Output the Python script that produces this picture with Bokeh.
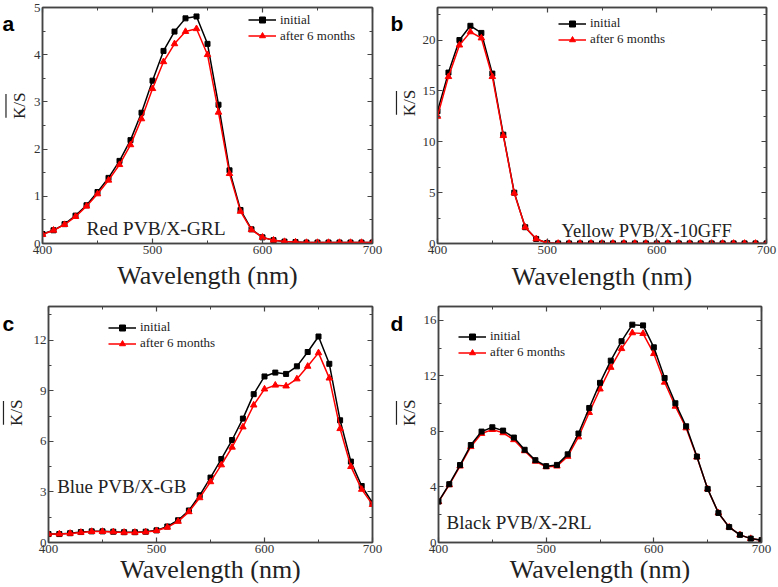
from math import pi
from bokeh.plotting import figure
from bokeh.layouts import column, row
from bokeh.models import (FixedTicker, LinearAxis, Range1d, Label, BoxAnnotation,
                          Legend, LegendItem, ColumnDataSource, CustomLabelingPolicy)
from bokeh.embed import file_html
from bokeh.resources import INLINE

# ---------------- data ----------------
wavelength = list(range(400, 701, 10))

red_initial = [0.20, 0.28, 0.41, 0.59, 0.81, 1.09, 1.39, 1.75, 2.19, 2.77, 3.45, 4.08, 4.49, 4.77, 4.81,
               4.23, 2.94, 1.55, 0.71, 0.30, 0.13, 0.07, 0.04, 0.03,
               0.02, 0.02, 0.02, 0.02, 0.02, 0.02, 0.02]
red_after = [0.19, 0.28, 0.40, 0.57, 0.79, 1.05, 1.34, 1.67, 2.09, 2.64, 3.28, 3.85, 4.23, 4.49, 4.55,
             4.00, 2.78, 1.48, 0.68, 0.29, 0.13, 0.07, 0.04, 0.03,
             0.02, 0.02, 0.02, 0.02, 0.02, 0.02, 0.02]

yellow_initial = [13.0, 16.8, 20.0, 21.4, 20.7, 16.7, 10.7, 5.0, 1.6, 0.45, 0.05,
                  0.01, 0.01, 0.01, 0.01, 0.01, 0.01, 0.01, 0.01, 0.01, 0.01,
                  0.01, 0.01, 0.01, 0.01, 0.01, 0.01, 0.01, 0.01, 0.01, 0.01]
yellow_after = [12.5, 16.4, 19.5, 20.8, 20.2, 16.4, 10.6, 4.95, 1.6, 0.45, 0.05,
                0.01, 0.01, 0.01, 0.01, 0.01, 0.01, 0.01, 0.01, 0.01, 0.01,
                0.01, 0.01, 0.01, 0.01, 0.01, 0.01, 0.01, 0.01, 0.01, 0.01]

blue_initial = [0.50, 0.50, 0.55, 0.62, 0.66, 0.66, 0.64, 0.61, 0.61, 0.64, 0.72, 0.95, 1.32, 1.90, 2.80,
                3.85, 4.95, 6.08, 7.35, 8.80, 9.85, 10.08, 10.00, 10.45, 11.30, 12.22, 10.60, 7.25,
                4.80, 3.35, 2.35]
blue_after = [0.50, 0.50, 0.54, 0.60, 0.65, 0.65, 0.63, 0.60, 0.60, 0.62, 0.70, 0.90, 1.25, 1.82, 2.65,
              3.60, 4.60, 5.65, 6.85, 8.15, 9.10, 9.33, 9.28, 9.70, 10.45, 11.25, 9.75, 6.75,
              4.50, 3.15, 2.25]

black_initial = [2.95, 4.20, 5.58, 7.02, 7.99, 8.30, 8.06, 7.56, 6.68, 5.93, 5.50, 5.59, 6.35, 7.85, 9.69,
                 11.50, 13.10, 14.50, 15.69, 15.64, 14.06, 11.85, 10.03, 8.37, 6.19, 3.86, 2.13, 1.11,
                 0.55, 0.28, 0.17]
black_after = [2.93, 4.15, 5.50, 6.90, 7.85, 8.13, 7.90, 7.40, 6.60, 5.85, 5.45, 5.50, 6.20, 7.60, 9.36,
               11.05, 12.61, 13.96, 15.10, 15.05, 13.60, 11.54, 9.81, 8.25, 6.15, 3.85, 2.13, 1.10,
               0.55, 0.28, 0.17]

x_ticks = [400, 500, 600, 700]
x_minor = [450, 550, 650]
series_labels = ["initial", "after 6 months"]

FRAME = "#444444"
SERIF = "Liberation Serif"
NO_LABELS = "try { for (const i of Array.from(indices)) { indices.unset(i) } } catch (e) {} return indices"
H = 293
SIDE_W = 30


def style_axis(ax, ticker, show_labels):
    ax.ticker = ticker
    ax.major_tick_in = 5
    ax.major_tick_out = 0
    ax.minor_tick_in = 3
    ax.minor_tick_out = 0
    ax.axis_line_color = FRAME
    ax.axis_line_width = 1.5
    ax.major_tick_line_color = FRAME
    ax.major_tick_line_width = 1.2
    ax.minor_tick_line_color = FRAME
    ax.minor_tick_line_width = 1.0
    if show_labels:
        ax.major_label_text_font = SERIF
        ax.major_label_text_font_size = "13px"
        ax.major_label_text_line_height = 1.0
        ax.major_label_text_color = "#333333"
        ax.major_label_standoff = 2
    else:
        ax.major_label_text_font_size = "0px"
        ax.major_label_standoff = 0
        ax.major_label_policy = CustomLabelingPolicy(code=NO_LABELS)


def side_panel(letter, letter_xy, ylab_xy):
    """Narrow strip left of a panel holding the panel letter and the K/S title."""
    s = figure(width=SIDE_W, height=H, x_range=Range1d(0, SIDE_W), y_range=Range1d(0, H),
               output_backend="svg", toolbar_location=None, min_border=0,
               min_border_left=0, min_border_right=0, min_border_top=0, min_border_bottom=0,
               x_axis_type=None, y_axis_type=None, outline_line_color=None,
               background_fill_color="white", border_fill_color="white")
    s.add_layout(Label(x=letter_xy[0], y=letter_xy[1], text=letter,
                       text_font="Liberation Sans", text_font_style="bold",
                       text_font_size="21px", text_color="black", text_baseline="alphabetic"))
    fs = 17
    kx, ky = ylab_xy
    s.add_layout(Label(x=kx, y=ky, text="K/S", angle=pi / 2, text_align="center",
                       text_baseline="alphabetic", text_font=SERIF,
                       text_font_size=f"{fs}px", text_color="#222222"))
    cap = 0.66 * fs
    half = 1.556 * fs / 2 + 1.5
    s.add_layout(BoxAnnotation(left=kx - cap - 2.4, right=kx - cap - 1.2,
                               bottom=ky - half, top=ky + half,
                               fill_color="#222222", fill_alpha=1, line_color=None))
    return s


def make_panel(y_end, y_ticks, y_minor, init, after, name, name_xy, name_fs,
               bl, br, bt, bb, label_standoff, legend_off, black_on_top=False):
    W = 389 - SIDE_W
    fh = H - bt - bb
    p = figure(width=W, height=H, x_range=Range1d(400, 700), y_range=Range1d(0, y_end),
               output_backend="svg", toolbar_location=None,
               min_border_left=bl - SIDE_W, min_border_right=br, min_border_top=bt,
               min_border_bottom=bb,
               background_fill_color="white", border_fill_color="white")
    p.xgrid.visible = False
    p.ygrid.visible = False
    p.outline_line_color = FRAME
    p.outline_line_width = 1.5

    style_axis(p.xaxis[0], FixedTicker(ticks=x_ticks, minor_ticks=x_minor), True)
    style_axis(p.yaxis[0], FixedTicker(ticks=y_ticks, minor_ticks=y_minor), True)
    xa = p.xaxis[0]
    xa.axis_label = "Wavelength (nm)"
    xa.axis_label_text_font = SERIF
    xa.axis_label_text_font_size = "26px"
    xa.axis_label_text_line_height = 1.0
    xa.axis_label_text_font_style = "normal"
    xa.axis_label_text_color = "#222222"
    xa.axis_label_standoff = label_standoff

    top = LinearAxis()
    style_axis(top, FixedTicker(ticks=x_ticks, minor_ticks=x_minor), False)
    p.add_layout(top, "above")
    right = LinearAxis()
    style_axis(right, FixedTicker(ticks=y_ticks, minor_ticks=y_minor), False)
    p.add_layout(right, "right")

    src = ColumnDataSource(dict(x=wavelength, a=init, b=after))

    def draw_black():
        l = p.line("x", "a", source=src, line_color="black", line_width=1.5)
        s = p.scatter("x", "a", source=src, marker="square", size=5, color="black")
        return l, s

    def draw_red():
        l = p.line("x", "b", source=src, line_color="#ff0000", line_width=1.5)
        s = p.scatter("x", "b", source=src, marker="triangle", size=6.5, color="#ff0000")
        return l, s

    if black_on_top:
        r2 = draw_red()
        r1 = draw_black()
    else:
        r1 = draw_black()
        r2 = draw_red()

    lx, ltop = legend_off
    legend = Legend(items=[LegendItem(label=series_labels[0], renderers=list(r1)),
                           LegendItem(label=series_labels[1], renderers=list(r2))],
                    location=(lx, fh - ltop - 30), border_line_color=None, background_fill_alpha=0,
                    label_text_font=SERIF, label_text_font_size="13px", label_text_color="#222222",
                    glyph_width=28, glyph_height=15, label_height=15, spacing=0, padding=0,
                    margin=0, label_standoff=4)
    p.add_layout(legend)

    p.add_layout(Label(x=name_xy[0], y=name_xy[1], text=name, text_font=SERIF,
                       text_font_size=name_fs, text_color="#222222", text_baseline="alphabetic"))
    return p


sa = side_panel("a", (2, 273), (18.5, 171))
pa = make_panel(5, [0, 1, 2, 3, 4, 5], [0.5, 1.5, 2.5, 3.5, 4.5], red_initial, red_after,
                "Red PVB/X-GRL", (440, 0.31), "19.5px",
                41, 17, 7, 45, 4, (206, 11.5))
sb = side_panel("b", (1, 273), (20, 174.5))
pb = make_panel(23.2, [0, 5, 10, 15, 20], [2.5, 7.5, 12.5, 17.5, 22.5], yellow_initial, yellow_after,
                "Yellow PVB/X-10GFF", (513, 1.2), "18.5px",
                45, 12, 4, 47, 5, (121, 16))
sc = side_panel("c", (2, 272), (16, 161))
pc = make_panel(14, [0, 3, 6, 9, 12], [1.5, 4.5, 7.5, 10.5, 13.5], blue_initial, blue_after,
                "Blue PVB/X-GB", (408, 3.3), "19px",
                47, 17, 13, 41, -1, (60, 18))
sd = side_panel("d", (1, 272), (20, 161))
pd = make_panel(17, [0, 4, 8, 12, 16], [2, 6, 10, 14], black_initial, black_after,
                "Black PVB/X-2RL", (407.5, 1.42), "19px",
                49, 17, 13, 41, -1, (20, 27), black_on_top=True)

layout = column(row(sa, pa, sb, pb), row(sc, pc, sd, pd))
open("out.html", "w").write(file_html(layout, INLINE))
